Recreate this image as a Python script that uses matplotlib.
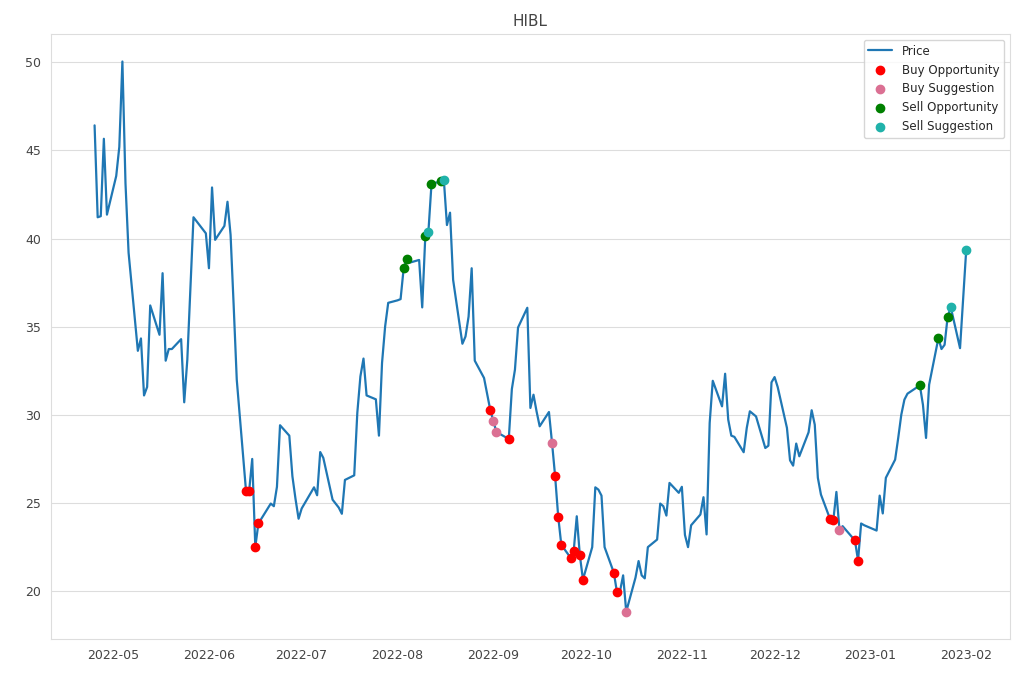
import pandas as pd
import matplotlib.pyplot as plt
import seaborn as sns

sns.set_style('whitegrid')
plt.rcParams['font.family'] = ['DejaVu Sans']

ticker = 'HIBL'

dates = ['2022-04-25', '2022-04-26', '2022-04-27', '2022-04-28', '2022-04-29',
         '2022-05-02', '2022-05-03', '2022-05-04', '2022-05-05', '2022-05-06',
         '2022-05-09', '2022-05-10', '2022-05-11', '2022-05-12', '2022-05-13',
         '2022-05-16', '2022-05-17', '2022-05-18', '2022-05-19', '2022-05-20',
         '2022-05-23', '2022-05-24', '2022-05-25', '2022-05-26', '2022-05-27',
         '2022-05-31', '2022-06-01', '2022-06-02', '2022-06-03',
         '2022-06-06', '2022-06-07', '2022-06-08', '2022-06-09', '2022-06-10',
         '2022-06-13', '2022-06-14', '2022-06-15', '2022-06-16', '2022-06-17',
         '2022-06-21', '2022-06-22', '2022-06-23', '2022-06-24',
         '2022-06-27', '2022-06-28', '2022-06-29', '2022-06-30', '2022-07-01',
         '2022-07-05', '2022-07-06', '2022-07-07', '2022-07-08',
         '2022-07-11', '2022-07-12', '2022-07-13', '2022-07-14', '2022-07-15',
         '2022-07-18', '2022-07-19', '2022-07-20', '2022-07-21', '2022-07-22',
         '2022-07-25', '2022-07-26', '2022-07-27', '2022-07-28', '2022-07-29',
         '2022-08-01', '2022-08-02', '2022-08-03', '2022-08-04', '2022-08-05',
         '2022-08-08', '2022-08-09', '2022-08-10', '2022-08-11', '2022-08-12',
         '2022-08-15', '2022-08-16', '2022-08-17', '2022-08-18', '2022-08-19',
         '2022-08-22', '2022-08-23', '2022-08-24', '2022-08-25', '2022-08-26',
         '2022-08-29', '2022-08-30', '2022-08-31', '2022-09-01', '2022-09-02',
         '2022-09-06', '2022-09-07', '2022-09-08', '2022-09-09',
         '2022-09-12', '2022-09-13', '2022-09-14', '2022-09-15', '2022-09-16',
         '2022-09-19', '2022-09-20', '2022-09-21', '2022-09-22', '2022-09-23',
         '2022-09-26', '2022-09-27', '2022-09-28', '2022-09-29', '2022-09-30',
         '2022-10-03', '2022-10-04', '2022-10-05', '2022-10-06', '2022-10-07',
         '2022-10-10', '2022-10-11', '2022-10-12', '2022-10-13', '2022-10-14',
         '2022-10-17', '2022-10-18', '2022-10-19', '2022-10-20', '2022-10-21',
         '2022-10-24', '2022-10-25', '2022-10-26', '2022-10-27', '2022-10-28',
         '2022-10-31', '2022-11-01', '2022-11-02', '2022-11-03', '2022-11-04',
         '2022-11-07', '2022-11-08', '2022-11-09', '2022-11-10', '2022-11-11',
         '2022-11-14', '2022-11-15', '2022-11-16', '2022-11-17', '2022-11-18',
         '2022-11-21', '2022-11-22', '2022-11-23', '2022-11-25',
         '2022-11-28', '2022-11-29', '2022-11-30', '2022-12-01', '2022-12-02',
         '2022-12-05', '2022-12-06', '2022-12-07', '2022-12-08', '2022-12-09',
         '2022-12-12', '2022-12-13', '2022-12-14', '2022-12-15', '2022-12-16',
         '2022-12-19', '2022-12-20', '2022-12-21', '2022-12-22', '2022-12-23',
         '2022-12-27', '2022-12-28', '2022-12-29', '2022-12-30',
         '2023-01-03', '2023-01-04', '2023-01-05', '2023-01-06',
         '2023-01-09', '2023-01-10', '2023-01-11', '2023-01-12', '2023-01-13',
         '2023-01-17', '2023-01-18', '2023-01-19', '2023-01-20',
         '2023-01-23', '2023-01-24', '2023-01-25', '2023-01-26', '2023-01-27',
         '2023-01-30', '2023-02-01']

prices = [46.42, 41.21, 41.27, 45.66, 41.36,
          43.55, 45.20, 50.04, 43.13, 39.20,
          33.64, 34.34, 31.11, 31.59, 36.21,
          34.55, 38.04, 33.08, 33.74, 33.74,
          34.30, 30.72, 33.13, 37.20, 41.21,
          40.30, 38.32, 42.90, 39.93,
          40.72, 42.09, 40.21, 36.20, 32.00,
          25.68, 25.68, 27.51, 22.53, 23.85,
          24.98, 24.83, 25.93, 29.42,
          28.83, 26.53, 25.25, 24.12, 24.70,
          25.90, 25.45, 27.90, 27.57,
          25.20, 24.98, 24.75, 24.40, 26.32,
          26.58, 30.12, 32.19, 33.20, 31.11,
          30.89, 28.83, 32.95, 35.02, 36.36,
          36.50, 36.57, 38.32, 38.85, 38.64,
          38.79, 36.10, 40.15, 40.38, 43.10,
          43.25, 43.32, 40.77, 41.47, 37.66,
          34.04, 34.45, 35.58, 38.32, 33.08,
          32.10, 31.20, 30.30, 29.68, 29.04,
          28.64, 31.47, 32.57, 34.96,
          36.08, 30.40, 31.15, 30.20, 29.36,
          30.17, 28.42, 26.53, 24.23, 22.64,
          21.91, 22.28, 24.26, 22.04, 20.67,
          22.51, 25.90, 25.77, 25.43, 22.51,
          21.06, 19.96, 20.02, 20.91, 18.85,
          20.78, 21.72, 20.91, 20.74, 22.51,
          22.94, 24.98, 24.83, 24.30, 26.15,
          25.59, 25.93, 23.20, 22.51, 23.75,
          24.36, 25.34, 23.23, 29.55, 31.94,
          30.49, 32.34, 29.74, 28.83, 28.76,
          27.89, 29.27, 30.21, 29.92,
          28.13, 28.26, 31.85, 32.15, 31.59,
          29.27, 27.43, 27.13, 28.38, 27.66,
          29.02, 30.27, 29.45, 26.44, 25.49,
          24.08, 24.04, 25.64, 23.47, 23.70,
          22.89, 21.75, 23.85, 23.75,
          23.45, 25.43, 24.42, 26.44,
          27.47, 28.70, 30.02, 30.87, 31.21,
          31.68, 30.58, 28.70, 31.72,
          34.36, 33.74, 33.98, 35.58, 36.11,
          33.79, 39.36]

buy_opportunity = ['2022-06-13', '2022-06-14', '2022-06-16', '2022-06-17',
                   '2022-08-31', '2022-09-06', '2022-09-21', '2022-09-22',
                   '2022-09-23', '2022-09-26', '2022-09-27', '2022-09-29',
                   '2022-09-30', '2022-10-10', '2022-10-11', '2022-12-19',
                   '2022-12-20', '2022-12-27', '2022-12-28']
buy_suggestion = ['2022-09-01', '2022-09-02', '2022-09-20', '2022-10-14', '2022-12-22']
sell_opportunity = ['2022-08-03', '2022-08-04', '2022-08-10', '2022-08-12',
                    '2022-08-15', '2023-01-17', '2023-01-23', '2023-01-26']
sell_suggestion = ['2022-08-11', '2022-08-16', '2023-01-27', '2023-02-01']

price = pd.Series(prices, index=pd.to_datetime(dates))

fig, ax = plt.subplots(figsize=(10.2, 6.8), dpi=100)
ax.plot(price.index, price.values, color='#1f77b4', linewidth=1.6, label='Price')

groups = [(buy_opportunity, 'red', 'Buy Opportunity'),
          (buy_suggestion, 'palevioletred', 'Buy Suggestion'),
          (sell_opportunity, 'green', 'Sell Opportunity'),
          (sell_suggestion, 'lightseagreen', 'Sell Suggestion')]
for d, c, lbl in groups:
    sel = price.loc[pd.to_datetime(d)]
    ax.scatter(sel.index, sel.values, color=c, s=36, label=lbl, zorder=3)

ax.grid(axis='x', visible=False)
ax.grid(axis='y', color='#dddddd')
for s in ax.spines.values():
    s.set_color('#dddddd')

ax.set_title(ticker, color='#444444', fontsize=11)
ax.tick_params(colors='#444444', labelsize=9)
ax.legend(loc='upper right', fontsize=8.5)

fig.subplots_adjust(left=0.05, right=0.99, top=0.95, bottom=0.06)
fig.savefig('out.png')
